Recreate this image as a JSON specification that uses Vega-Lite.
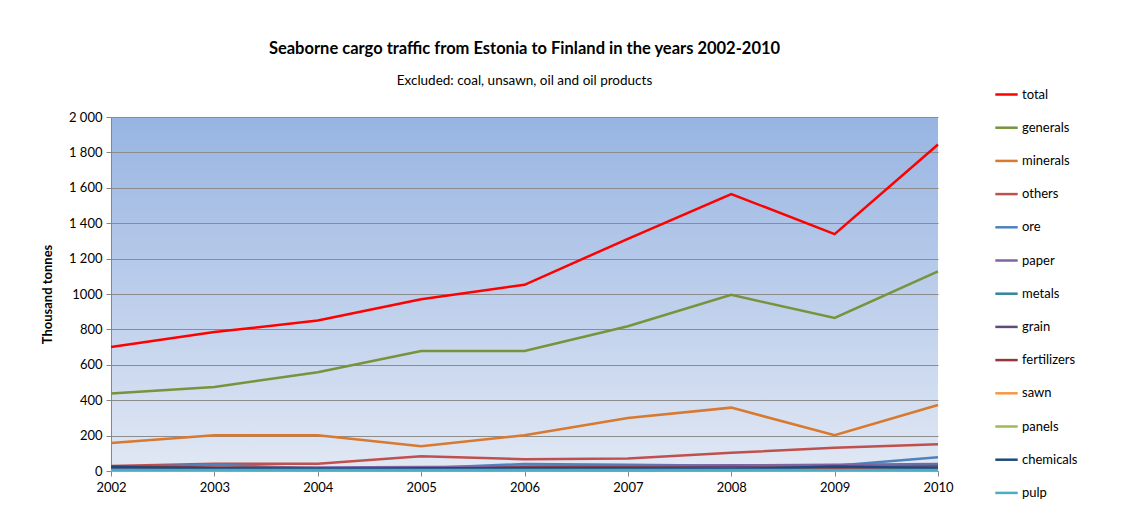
{
  "$schema": "https://vega.github.io/schema/vega-lite/v6.json",
  "width": 827,
  "height": 354,
  "autosize": {"type": "none"},
  "padding": {"left": 111, "top": 117, "right": 191, "bottom": 52},
  "background": "white",
  "config": {
    "font": "Lato",
    "view": {
      "stroke": null,
      "fill": {
        "gradient": "linear",
        "x1": 0, "y1": 0, "x2": 0, "y2": 1,
        "stops": [
          {"offset": 0, "color": "#97B4E2"},
          {"offset": 1, "color": "#E1E8F4"}
        ]
      }
    },
    "axis": {"labelFont": "Lato", "titleFont": "Lato"}
  },
  "title": {
    "text": "Seaborne cargo traffic from Estonia to Finland in the years 2002-2010",
    "subtitle": "Excluded: coal, unsawn,  oil and oil products",
    "anchor": "middle",
    "frame": "group",
    "fontSize": 16.5,
    "fontWeight": "bold",
    "color": "#000000",
    "subtitleFontSize": 13.5,
    "subtitleColor": "#000000",
    "subtitlePadding": 16,
    "offset": -5
  },
  "data": {
    "values": [
      {"year": 2002, "series": "total", "value": 700},
      {"year": 2003, "series": "total", "value": 785},
      {"year": 2004, "series": "total", "value": 850},
      {"year": 2005, "series": "total", "value": 970},
      {"year": 2006, "series": "total", "value": 1052},
      {"year": 2007, "series": "total", "value": 1312},
      {"year": 2008, "series": "total", "value": 1565},
      {"year": 2009, "series": "total", "value": 1338},
      {"year": 2010, "series": "total", "value": 1845},
      {"year": 2002, "series": "generals", "value": 438},
      {"year": 2003, "series": "generals", "value": 475},
      {"year": 2004, "series": "generals", "value": 558},
      {"year": 2005, "series": "generals", "value": 678},
      {"year": 2006, "series": "generals", "value": 678},
      {"year": 2007, "series": "generals", "value": 818},
      {"year": 2008, "series": "generals", "value": 995},
      {"year": 2009, "series": "generals", "value": 865},
      {"year": 2010, "series": "generals", "value": 1128},
      {"year": 2002, "series": "minerals", "value": 158},
      {"year": 2003, "series": "minerals", "value": 202},
      {"year": 2004, "series": "minerals", "value": 202},
      {"year": 2005, "series": "minerals", "value": 140},
      {"year": 2006, "series": "minerals", "value": 202},
      {"year": 2007, "series": "minerals", "value": 300},
      {"year": 2008, "series": "minerals", "value": 358},
      {"year": 2009, "series": "minerals", "value": 202},
      {"year": 2010, "series": "minerals", "value": 373},
      {"year": 2002, "series": "others", "value": 28},
      {"year": 2003, "series": "others", "value": 41},
      {"year": 2004, "series": "others", "value": 41},
      {"year": 2005, "series": "others", "value": 84},
      {"year": 2006, "series": "others", "value": 66},
      {"year": 2007, "series": "others", "value": 70},
      {"year": 2008, "series": "others", "value": 103},
      {"year": 2009, "series": "others", "value": 131},
      {"year": 2010, "series": "others", "value": 151},
      {"year": 2002, "series": "ore", "value": 20},
      {"year": 2003, "series": "ore", "value": 35},
      {"year": 2004, "series": "ore", "value": 15},
      {"year": 2005, "series": "ore", "value": 15},
      {"year": 2006, "series": "ore", "value": 40},
      {"year": 2007, "series": "ore", "value": 35},
      {"year": 2008, "series": "ore", "value": 30},
      {"year": 2009, "series": "ore", "value": 30},
      {"year": 2010, "series": "ore", "value": 78},
      {"year": 2002, "series": "paper", "value": 10},
      {"year": 2003, "series": "paper", "value": 15},
      {"year": 2004, "series": "paper", "value": 20},
      {"year": 2005, "series": "paper", "value": 22},
      {"year": 2006, "series": "paper", "value": 25},
      {"year": 2007, "series": "paper", "value": 28},
      {"year": 2008, "series": "paper", "value": 32},
      {"year": 2009, "series": "paper", "value": 35},
      {"year": 2010, "series": "paper", "value": 40},
      {"year": 2002, "series": "metals", "value": 5},
      {"year": 2003, "series": "metals", "value": 8},
      {"year": 2004, "series": "metals", "value": 10},
      {"year": 2005, "series": "metals", "value": 10},
      {"year": 2006, "series": "metals", "value": 15},
      {"year": 2007, "series": "metals", "value": 20},
      {"year": 2008, "series": "metals", "value": 18},
      {"year": 2009, "series": "metals", "value": 25},
      {"year": 2010, "series": "metals", "value": 30},
      {"year": 2002, "series": "grain", "value": 15},
      {"year": 2003, "series": "grain", "value": 10},
      {"year": 2004, "series": "grain", "value": 5},
      {"year": 2005, "series": "grain", "value": 12},
      {"year": 2006, "series": "grain", "value": 20},
      {"year": 2007, "series": "grain", "value": 18},
      {"year": 2008, "series": "grain", "value": 22},
      {"year": 2009, "series": "grain", "value": 15},
      {"year": 2010, "series": "grain", "value": 25},
      {"year": 2002, "series": "fertilizers", "value": 25},
      {"year": 2003, "series": "fertilizers", "value": 20},
      {"year": 2004, "series": "fertilizers", "value": 15},
      {"year": 2005, "series": "fertilizers", "value": 10},
      {"year": 2006, "series": "fertilizers", "value": 20},
      {"year": 2007, "series": "fertilizers", "value": 20},
      {"year": 2008, "series": "fertilizers", "value": 15},
      {"year": 2009, "series": "fertilizers", "value": 20},
      {"year": 2010, "series": "fertilizers", "value": 10},
      {"year": 2002, "series": "sawn", "value": 3},
      {"year": 2003, "series": "sawn", "value": 4},
      {"year": 2004, "series": "sawn", "value": 4},
      {"year": 2005, "series": "sawn", "value": 5},
      {"year": 2006, "series": "sawn", "value": 5},
      {"year": 2007, "series": "sawn", "value": 6},
      {"year": 2008, "series": "sawn", "value": 5},
      {"year": 2009, "series": "sawn", "value": 4},
      {"year": 2010, "series": "sawn", "value": 5},
      {"year": 2002, "series": "panels", "value": 2},
      {"year": 2003, "series": "panels", "value": 2},
      {"year": 2004, "series": "panels", "value": 3},
      {"year": 2005, "series": "panels", "value": 3},
      {"year": 2006, "series": "panels", "value": 3},
      {"year": 2007, "series": "panels", "value": 4},
      {"year": 2008, "series": "panels", "value": 3},
      {"year": 2009, "series": "panels", "value": 2},
      {"year": 2010, "series": "panels", "value": 3},
      {"year": 2002, "series": "chemicals", "value": 22},
      {"year": 2003, "series": "chemicals", "value": 15},
      {"year": 2004, "series": "chemicals", "value": 10},
      {"year": 2005, "series": "chemicals", "value": 15},
      {"year": 2006, "series": "chemicals", "value": 15},
      {"year": 2007, "series": "chemicals", "value": 15},
      {"year": 2008, "series": "chemicals", "value": 10},
      {"year": 2009, "series": "chemicals", "value": 25},
      {"year": 2010, "series": "chemicals", "value": 15},
      {"year": 2002, "series": "pulp", "value": 5},
      {"year": 2003, "series": "pulp", "value": 5},
      {"year": 2004, "series": "pulp", "value": 5},
      {"year": 2005, "series": "pulp", "value": 6},
      {"year": 2006, "series": "pulp", "value": 5},
      {"year": 2007, "series": "pulp", "value": 5},
      {"year": 2008, "series": "pulp", "value": 6},
      {"year": 2009, "series": "pulp", "value": 5},
      {"year": 2010, "series": "pulp", "value": 5}
    ]
  },
  "mark": {"type": "line", "strokeWidth": 2.5, "interpolate": "linear"},
  "encoding": {
    "x": {
      "field": "year",
      "type": "quantitative",
      "scale": {"domain": [2002, 2010], "nice": false, "zero": false},
      "axis": {
        "title": null,
        "values": [2002, 2003, 2004, 2005, 2006, 2007, 2008, 2009, 2010],
        "format": "d",
        "grid": false,
        "domainColor": "#868686",
        "tickColor": "#868686",
        "tickSize": 5,
        "labelFontSize": 13,
        "labelColor": "#000000",
        "labelPadding": 5,
        "labelFlush": false,
        "labelOverlap": false
      }
    },
    "y": {
      "field": "value",
      "type": "quantitative",
      "scale": {"domain": [0, 2000], "nice": false},
      "axis": {
        "title": "Thousand tonnes",
        "titleFontSize": 13,
        "titleFontWeight": "bold",
        "titleColor": "#000000",
        "titlePadding": 14,
        "values": [0, 200, 400, 600, 800, 1000, 1200, 1400, 1600, 1800, 2000],
        "labelExpr": "datum.value == 1000 ? '1000' : replace(format(datum.value, ','), ',', ' ')",
        "labelOverlap": false,
        "grid": true,
        "gridColor": "#8C8C8C",
        "gridWidth": 1,
        "domainColor": "#868686",
        "tickColor": "#868686",
        "tickSize": 5,
        "labelFontSize": 13,
        "labelColor": "#000000",
        "labelPadding": 4
      }
    },
    "color": {
      "field": "series",
      "type": "nominal",
      "scale": {
        "domain": ["total", "generals", "minerals", "others", "ore", "paper", "metals", "grain", "fertilizers", "sawn", "panels", "chemicals", "pulp"],
        "range": ["#FF0000", "#77933C", "#D9782F", "#C0504D", "#4F81BD", "#8064A2", "#31859C", "#604A7B", "#953735", "#F79646", "#9BBB59", "#1F497D", "#4BACC6"]
      },
      "legend": {
        "title": null,
        "orient": "none",
        "legendX": 883,
        "legendY": -35,
        "symbolType": "stroke",
        "symbolStrokeWidth": 2.5,
        "symbolSize": 500,
        "labelFontSize": 13,
        "labelColor": "#000000",
        "labelOffset": 3,
        "rowPadding": 13.2
      }
    }
  }
}
